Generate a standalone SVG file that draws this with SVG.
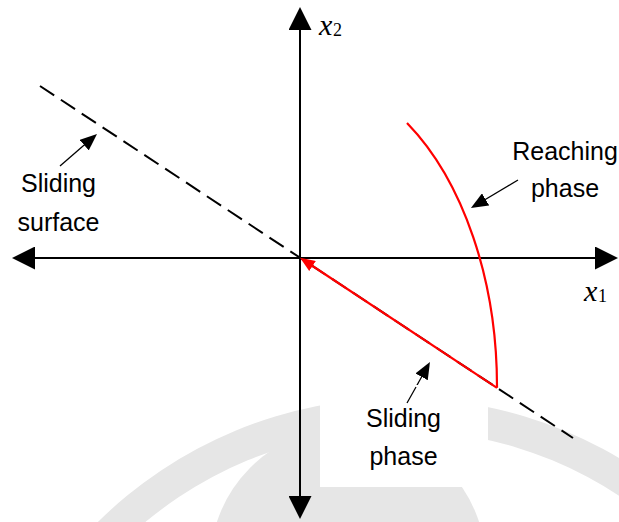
<svg xmlns="http://www.w3.org/2000/svg" width="619" height="522" viewBox="0 0 619 522">
  <style>
    .lbl { font-family: "Liberation Sans", Arial, sans-serif; font-size: 25px; fill: #000; text-anchor: middle; }
    .var { font-family: "Liberation Serif", "Times New Roman", serif; font-style: italic; font-size: 30px; fill: #000; }
    .sub { font-family: "Liberation Serif", "Times New Roman", serif; font-size: 18px; fill: #000; }
    .axis { stroke: #000; stroke-width: 2; fill: none; }
    .surf { stroke: #000; stroke-width: 2; fill: none; stroke-dasharray: 17 8; }
    .traj { stroke: #ff0000; stroke-width: 2.2; fill: none; }
    .pointer { stroke: #000; stroke-width: 1.3; fill: none; }
    .wm { fill: #e6e6e6; }
  </style>
  <defs>
    <marker id="axisHead" markerUnits="userSpaceOnUse" markerWidth="23" markerHeight="23" refX="13" refY="11.5" orient="auto">
      <path d="M0,0 L23,11.5 L0,23 Z" fill="#000"/>
    </marker>
    <marker id="redHead" markerUnits="userSpaceOnUse" markerWidth="15" markerHeight="12" refX="10" refY="6" orient="auto">
      <path d="M0,0 L15,6 L0,12 Z" fill="#ff0000"/>
    </marker>
    <marker id="ptrHead" markerUnits="userSpaceOnUse" markerWidth="17" markerHeight="14" refX="13" refY="7" orient="auto">
      <path d="M0,0 L17,7 L0,14 Z" fill="#000"/>
    </marker>
  </defs>

  <rect x="0" y="0" width="619" height="522" fill="#fff"/>

  <g id="watermark">
    <path class="wm" fill-rule="evenodd" d="M -30 828 A 430 430 0 0 1 830 828 A 430 430 0 0 1 -30 828 Z M 2 828 A 398 398 0 0 0 798 828 A 398 398 0 0 0 2 828 Z"/>
    <circle class="wm" cx="348" cy="565" r="138"/>
  </g>

  <g id="connectors">
    <line class="axis" x1="22" y1="258" x2="608" y2="258" marker-end="url(#axisHead)"/>
    <line class="axis" x1="608" y1="258" x2="22" y2="258" marker-end="url(#axisHead)"/>
    <line class="axis" x1="300" y1="509" x2="300" y2="17" marker-end="url(#axisHead)"/>
    <line class="axis" x1="300" y1="17" x2="300" y2="509" marker-end="url(#axisHead)"/>
    <line class="surf" x1="40" y1="86" x2="573" y2="438"/>
    <path class="traj" d="M 407 123 A 197 314 0 0 1 497 387.8"/>
    <line class="traj" x1="497" y1="387.8" x2="304.2" y2="260.5" marker-end="url(#redHead)"/>
    <line class="pointer" x1="60" y1="166" x2="94" y2="136.6" marker-end="url(#ptrHead)"/>
    <line class="pointer" x1="518" y1="180" x2="474.4" y2="206" marker-end="url(#ptrHead)"/>
    <line class="pointer" x1="407" y1="403" x2="428" y2="365.5" marker-end="url(#ptrHead)"/>
  </g>

  <g id="label-x2">
    <text class="var" x="319" y="35">x</text>
    <text class="sub" x="333" y="36">2</text>
  </g>
  <g id="label-x1">
    <text class="var" x="584" y="301">x</text>
    <text class="sub" x="598" y="302">1</text>
  </g>
  <g id="label-sliding-surface">
    <text class="lbl" x="58.5" y="192">Sliding</text>
    <text class="lbl" x="58.5" y="230.5">surface</text>
  </g>
  <g id="label-reaching-phase">
    <text class="lbl" x="565" y="160">Reaching</text>
    <text class="lbl" x="565" y="197">phase</text>
  </g>
  <g id="label-sliding-phase">
    <rect x="320" y="385" width="168" height="102" fill="#fff"/>
    <line class="pointer" x1="407" y1="403" x2="416" y2="387"/>
    <text class="lbl" x="403.5" y="427">Sliding</text>
    <text class="lbl" x="403.5" y="465">phase</text>
  </g>
</svg>
